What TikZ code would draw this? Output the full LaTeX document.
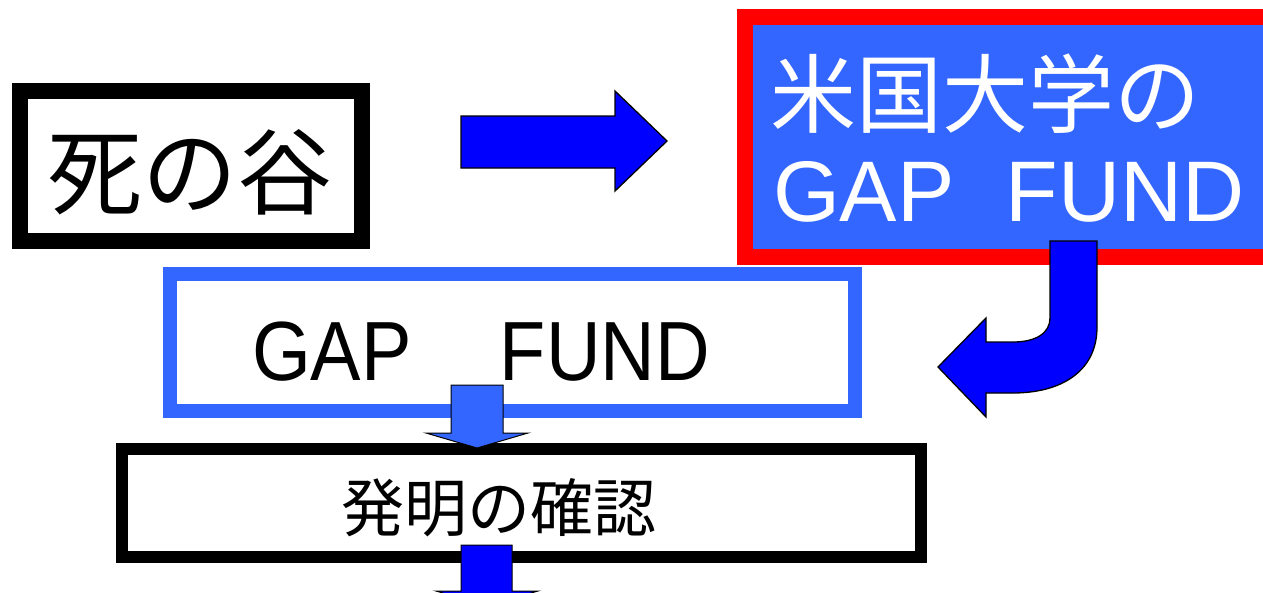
\documentclass[tikz,border=0pt]{standalone}
\usepackage{fontspec}
\usepackage{graphicx}
\newfontfamily\cjk{Noto Sans CJK JP}
\newfontfamily\arialf{Liberation Sans}
\definecolor{lblue}{RGB}{51,102,255}
\definecolor{pblue}{RGB}{0,0,255}
\definecolor{pred}{RGB}{255,0,0}
\tikzset{
  boxframe/.style={rectangle, inner sep=0pt, outer sep=0pt},
  txt/.style={inner sep=0pt, outer sep=0pt},
  blockarrow/.style={draw=black, line width=1.3pt, line join=miter},
}
\begin{document}
\begin{tikzpicture}[x=1pt,y=-1pt]
\useasboundingbox (0,0) rectangle (1263,592);
\clip (0,0) rectangle (1263,592);
\fill[white] (0,0) rectangle (1263,592);

% box: death valley
\node[boxframe, draw=black, line width=16pt, minimum width=342pt, minimum height=150pt] (shi) at (191,166) {};
\node[txt, font=\cjk\fontsize{95pt}{95pt}\selectfont] (shitxt) at (190,172) {死の谷};

% right arrow
\draw[blockarrow, fill=pblue] (461,116) -- (615,116) -- (615,91) -- (667,141) -- (615,191) -- (615,168) -- (461,168) -- cycle;

% red box
\node[boxframe, draw=pred, fill=lblue, line width=16pt, minimum width=545pt, minimum height=240pt] (us) at (1017.5,137) {};
\node[txt, white, font=\cjk\fontsize{86pt}{86pt}\selectfont] (ustxt1) at (985,93.5) {米国大学の};
\node[txt, white, anchor=base west, font=\arialf\fontsize{86pt}{86pt}\selectfont] (ustxt2) at (773,221) {GAP\hspace{51pt}FUND};

% curved arrow
\draw[blockarrow, fill=pblue] (1050,241) -- (1097,241) -- (1097,327)
  .. controls (1097,373) and (1059,393) .. (1013,393) -- (986,393) -- (986,417)
  -- (938,367) -- (986,318) -- (986,342) -- (1013,342)
  .. controls (1036,342) and (1050,333) .. (1050,318) -- cycle;

% middle box
\node[boxframe, draw=lblue, line width=14pt, minimum width=685pt, minimum height=137pt] (gap) at (512.5,342.5) {};
\node[txt, anchor=base west, font=\arialf\fontsize{84pt}{84pt}\selectfont] (gaptxt) at (252,380) {\scalebox{0.9}[1]{GAP\hspace{98pt}FUND}};

% bottom box
\node[boxframe, draw=black, line width=12pt, minimum width=799pt, minimum height=108pt] (inv) at (521.5,503) {};
\node[txt, font=\cjk\fontsize{63pt}{63pt}\selectfont] (invtxt) at (499,508) {発明の確認};

% small arrows
\draw[blockarrow, line width=1pt, fill=lblue] (451,385) -- (503,385) -- (503,433) -- (528,433) -- (477,448) -- (426,433) -- (451,433) -- cycle;
\draw[blockarrow, line width=1pt, fill=pblue] (461,545) -- (512,545) -- (512,591) -- (538,591) -- (487,606) -- (436,591) -- (461,591) -- cycle;
\end{tikzpicture}
\end{document}
